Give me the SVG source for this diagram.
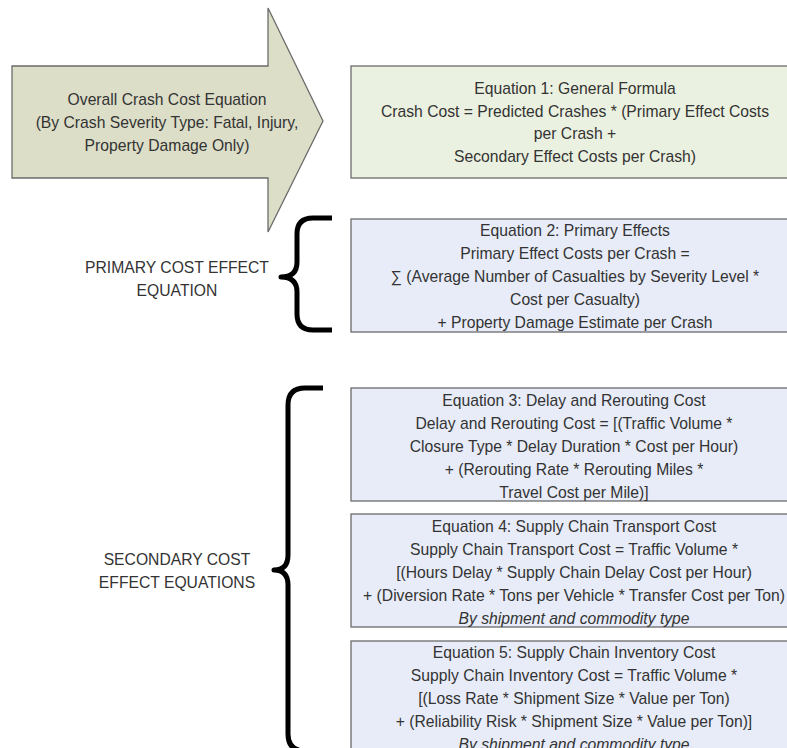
<svg xmlns="http://www.w3.org/2000/svg" width="787" height="748" viewBox="0 0 787 748">
<style>
text{font-family:"Liberation Sans",Arial,sans-serif;font-size:15.7px;fill:#333;text-anchor:middle}
.it{font-style:italic}
.green{fill:#ebf1e0;stroke:#6b6b6b;stroke-width:1.3}
.blue{fill:#e7ecf8;stroke:#6b6b6b;stroke-width:1.3}
.brace{fill:none;stroke:#000;stroke-width:5;stroke-linejoin:round}
</style>
<rect width="787" height="748" fill="#fff"/>
<g id="overall">
<path d="M12,66 H268 V8 L323,121 L268,232 V178 H12 Z" fill="#dcdec8" stroke="#6b6b6b" stroke-width="1.3"/>
<text x="167" y="105">Overall Crash Cost Equation</text>
<text x="167" y="128">(By Crash Severity Type: Fatal, Injury,</text>
<text x="167" y="151">Property Damage Only)</text>
</g>
<g id="eq1">
<rect class="green" x="351" y="66" width="448" height="112"/>
<text x="575" y="94">Equation 1: General Formula</text>
<text x="575" y="116.7">Crash Cost = Predicted Crashes * (Primary Effect Costs</text>
<text x="575" y="139.4">per Crash +</text>
<text x="575" y="162.1">Secondary Effect Costs per Crash)</text>
</g>
<g id="primary-label">
<text x="177" y="273">PRIMARY COST EFFECT</text>
<text x="177" y="295.5">EQUATION</text>
</g>
<g id="eq2">
<rect class="blue" x="351" y="219" width="448" height="113"/>
<text x="575" y="236">Equation 2: Primary Effects</text>
<text x="575" y="259">Primary Effect Costs per Crash =</text>
<text x="575" y="282">∑ (Average Number of Casualties by Severity Level *</text>
<text x="575" y="305">Cost per Casualty)</text>
<text x="575" y="328">+ Property Damage Estimate per Crash</text>
</g>
<g id="secondary-label">
<text x="177" y="565">SECONDARY COST</text>
<text x="177" y="588">EFFECT EQUATIONS</text>
</g>
<g id="eq3">
<rect class="blue" x="351" y="388" width="448" height="113"/>
<text x="574" y="406">Equation 3: Delay and Rerouting Cost</text>
<text x="574" y="429">Delay and Rerouting Cost = [(Traffic Volume *</text>
<text x="574" y="452">Closure Type * Delay Duration * Cost per Hour)</text>
<text x="574" y="475">+ (Rerouting Rate * Rerouting Miles *</text>
<text x="574" y="498">Travel Cost per Mile)]</text>
</g>
<g id="eq4">
<rect class="blue" x="351" y="514" width="448" height="113"/>
<text x="574" y="532">Equation 4: Supply Chain Transport Cost</text>
<text x="574" y="555">Supply Chain Transport Cost = Traffic Volume *</text>
<text x="574" y="578">[(Hours Delay * Supply Chain Delay Cost per Hour)</text>
<text x="574" y="601">+ (Diversion Rate * Tons per Vehicle * Transfer Cost per Ton)</text>
<text class="it" x="574" y="624">By shipment and commodity type</text>
</g>
<g id="eq5">
<rect class="blue" x="351" y="641" width="448" height="120"/>
<text x="574" y="658">Equation 5: Supply Chain Inventory Cost</text>
<text x="574" y="681">Supply Chain Inventory Cost = Traffic Volume *</text>
<text x="574" y="704">[(Loss Rate * Shipment Size * Value per Ton)</text>
<text x="574" y="727">+ (Reliability Risk * Shipment Size * Value per Ton)]</text>
<text class="it" x="574" y="750">By shipment and commodity type</text>
</g>
<g id="connectors">
<path class="brace" d="M332,218 H313 Q297,218 297,234 V262 Q297,277 281,277 Q297,277 297,292 V314 Q297,330 313,330 H332"/>
<path class="brace" d="M323,388 H305 Q288,388 288,405 V555 Q288,570 274,570 Q288,570 288,585 V734 Q288,751 305,751 H323"/>
</g>
</svg>
